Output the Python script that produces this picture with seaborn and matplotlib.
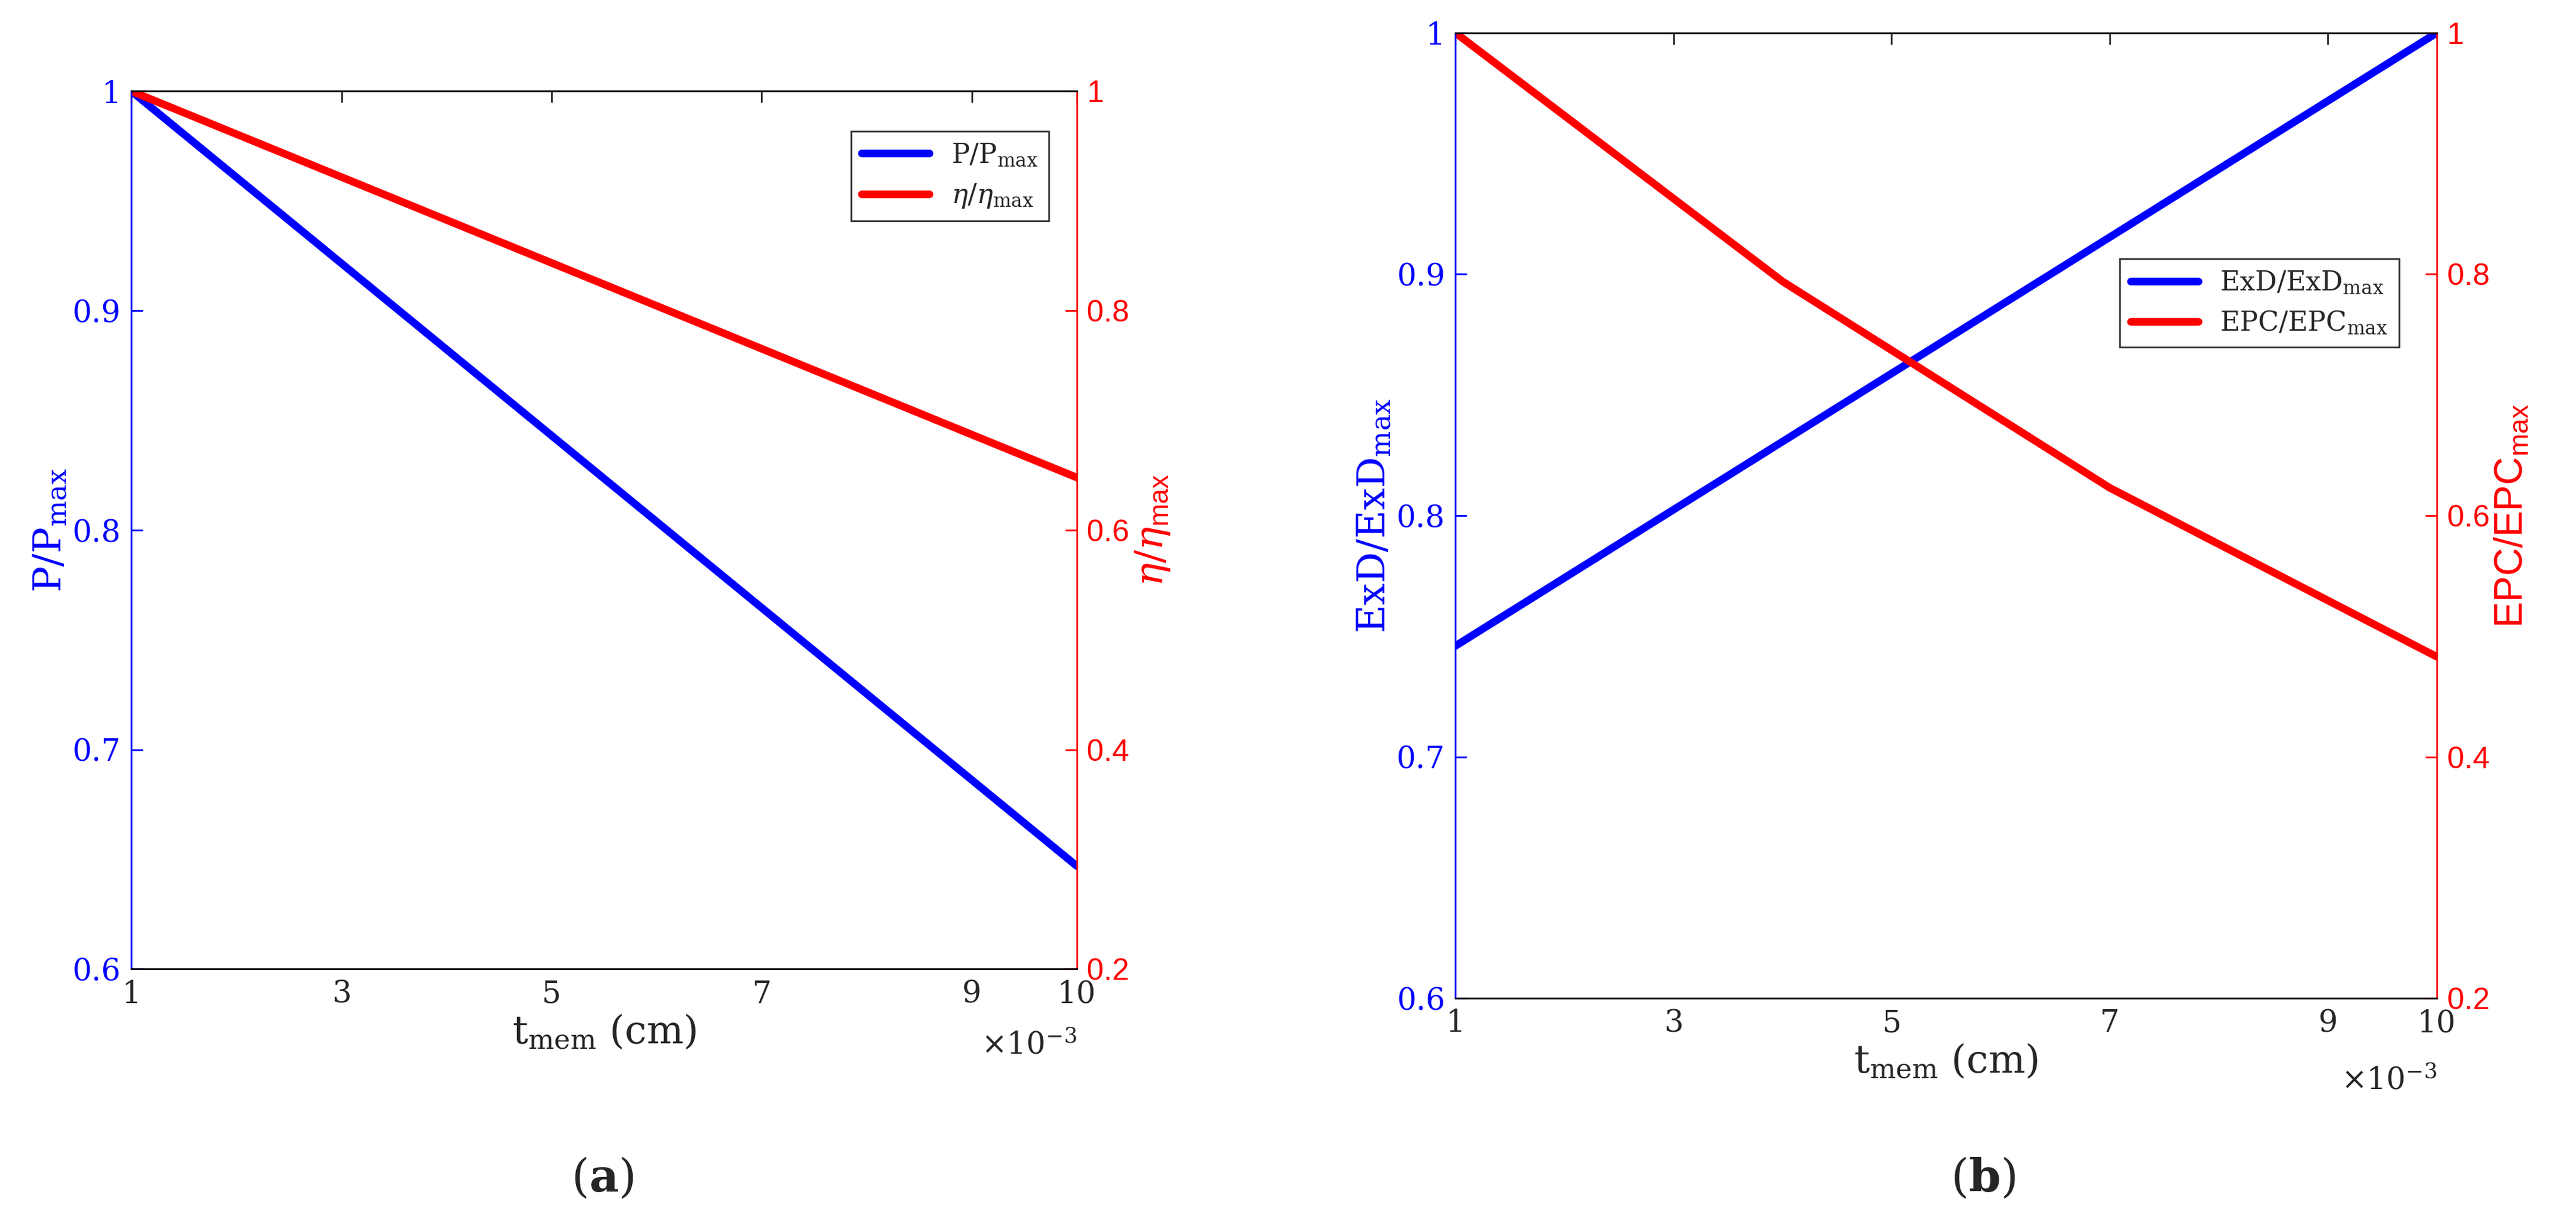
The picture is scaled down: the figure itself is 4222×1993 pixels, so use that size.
import matplotlib
matplotlib.use("Agg")
import matplotlib.pyplot as plt
import seaborn as sns
import pandas as pd

sns.set_style("white")
plt.rcParams['font.family'] = ['DejaVu Serif']
plt.rcParams['mathtext.fontset'] = 'dejavuserif'

# data (x in units of 1e-3 cm)
xa = [1, 10]
p_ratio = [1.0, 0.647]
eta_ratio = [1.0, 0.648]
xb_blue = [1, 10]
exd_ratio = [0.746, 1.0]
xb_red = [1, 4, 7, 10]
epc_ratio = [1.0, 0.794, 0.623, 0.483]
xticks = [1, 3, 5, 7, 9, 10]

fig = plt.figure(figsize=(42.22, 19.93), dpi=100)
BLUE, RED = '#0000ff', '#ff0000'
LW = 9
TFS = 36
LFS = 46

def panel(rect, xl, yl, xr, yr, lab_l, lab_r, leg_l, leg_r, leg_loc, leg_anchor, plabel, pl_x):
    ax = fig.add_axes(rect)
    sns.lineplot(x=xl, y=yl, ax=ax, color=BLUE, lw=LW, label=leg_l, legend=False)
    ax2 = ax.twinx()
    sns.lineplot(x=xr, y=yr, ax=ax2, color=RED, lw=LW, label=leg_r, legend=False)
    ax.set_xlim(1, 10); ax.set_ylim(0.6, 1.0)
    ax2.set_ylim(0.2, 1.0)
    ax.set_xticks(xticks); ax.set_xticklabels([str(t) for t in xticks], fontsize=TFS)
    ax.set_yticks([0.6, 0.7, 0.8, 0.9, 1.0]); ax.set_yticklabels(['0.6', '0.7', '0.8', '0.9', '1'], fontsize=TFS, color=BLUE)
    ax2.set_yticks([0.2, 0.4, 0.6, 0.8, 1.0])
    ax2.set_yticklabels(['0.2', '0.4', '0.6', '0.8', '1'], fontsize=TFS, color=RED, family='Liberation Sans')
    ax.tick_params(axis='both', direction='in', length=14, width=2, pad=12)
    ax2.tick_params(axis='y', direction='in', length=14, width=2, colors=RED, pad=12)
    ax.tick_params(axis='x', top=True)
    ax.tick_params(axis='y', colors=BLUE)
    for s in ['top', 'bottom']:
        ax2.spines[s].set_color('black'); ax2.spines[s].set_linewidth(2)
    ax2.spines['left'].set_color(BLUE); ax2.spines['right'].set_color(RED)
    ax2.spines['left'].set_linewidth(2); ax2.spines['right'].set_linewidth(2)
    ax.set_xlabel(r'$\mathregular{t_{mem}}$ (cm)', fontsize=LFS, labelpad=4)
    ax.set_ylabel(lab_l, fontsize=LFS, color=BLUE)
    ax2.set_ylabel(lab_r, fontsize=LFS, color=RED, family='Liberation Sans')
    ax.text(1.0, -0.07, r'$\times\mathregular{10^{-3}}$', transform=ax.transAxes, ha='right', va='top', fontsize=TFS)
    h1, l1 = ax.get_legend_handles_labels()
    h2, l2 = ax2.get_legend_handles_labels()
    leg = ax2.legend(h1 + h2, l1 + l2, loc=leg_loc, bbox_to_anchor=leg_anchor, fontsize=32,
                     frameon=True, fancybox=False, edgecolor='black', handlelength=2.5)
    leg.get_frame().set_linewidth(2)
    fig.text(pl_x, 0.03, plabel, ha='center', va='center', fontsize=54)
    return ax

panel([0.051, 0.203, 0.367, 0.722], xa, p_ratio, xa, eta_ratio,
      r'$\mathregular{P/P_{max}}$', r'$\eta/\eta_{\mathregular{max}}$',
      r'$\mathregular{P/P_{max}}$', r'$\eta/\eta_{\mathregular{max}}$',
      'upper right', (0.985, 0.97), r'($\mathbf{a}$)', 0.234)
panel([0.565, 0.179, 0.381, 0.794], xb_blue, exd_ratio, xb_red, epc_ratio,
      r'$\mathregular{ExD/ExD_{max}}$', r'$\mathregular{EPC/EPC_{max}}$',
      r'$\mathregular{ExD/ExD_{max}}$', r'$\mathregular{EPC/EPC_{max}}$',
      'upper right', (0.975, 0.78), r'($\mathbf{b}$)', 0.770)

fig.savefig('out.png', dpi=100, facecolor='white')
